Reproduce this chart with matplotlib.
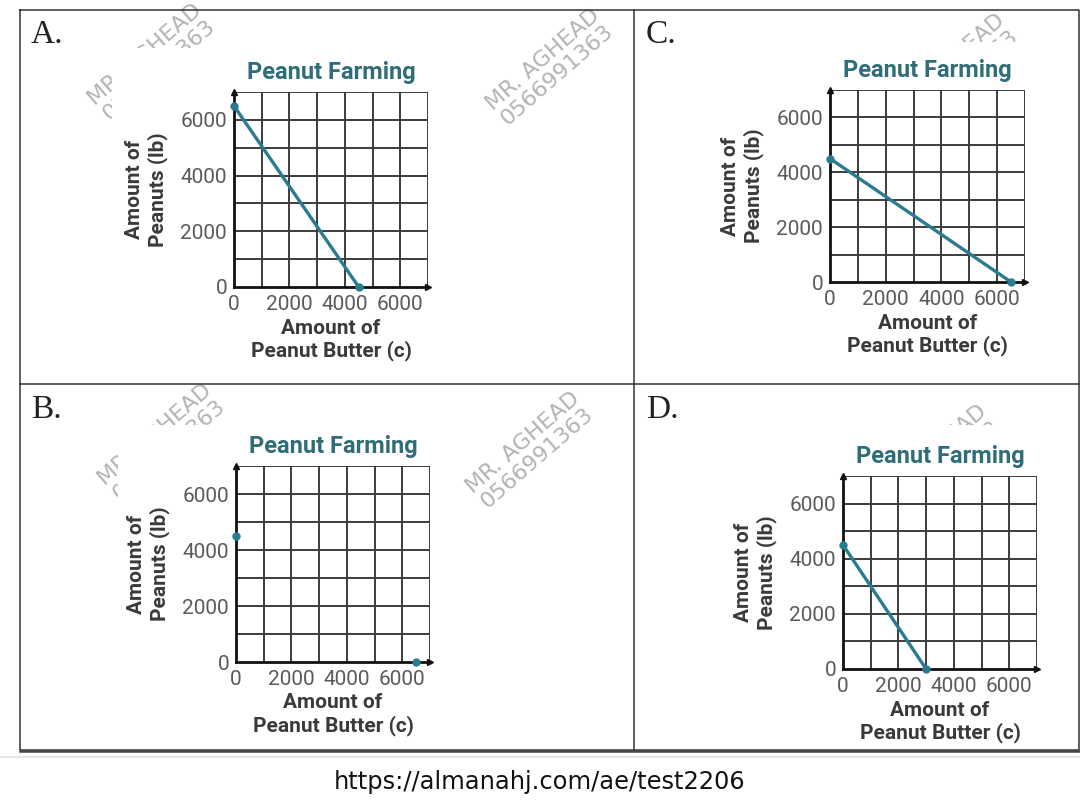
import matplotlib
matplotlib.use("Agg")
import matplotlib.pyplot as plt
from matplotlib.lines import Line2D
from matplotlib.patches import Rectangle

# ---- data
panel_names = ["A.", "C.", "B.", "D."]
a_x = [0, 4500]
a_y = [6500, 0]
b_x = [0, 6500]
b_y = [4500, 0]
c_x = [0, 6500]
c_y = [4500, 0]
d_x = [0, 3000]
d_y = [4500, 0]
tick_values = [0, 2000, 4000, 6000]
tick_labels = ["0", "2000", "4000", "6000"]
grid_values = [0, 1000, 2000, 3000, 4000, 5000, 6000, 7000]
axis_max = 7000

title_text = "Peanut Farming"
xlabel_text = "Amount of\nPeanut Butter (c)"
ylabel_text = "Amount of\nPeanuts (lb)"
watermark_text = "MR. AGHEAD\n0566991363"
url_text = "https://almanahj.com/ae/test2206"

W, H = 1080, 810
TEAL = "#2b7b90"
TITLE_TEAL = "#2f6d78"
GRID = "#3c3c3c"

fig = plt.figure(figsize=(W / 100, H / 100), dpi=100)


def fx(x):
    return x / W


def fy(y):
    return 1 - y / H


def rect(x0, y0, x1, y1):
    return [fx(x0), fy(y1), (x1 - x0) / W, (y1 - y0) / H]


# watermarks sit under the pasted chart images
for (wx, wy) in [(152, 62), (550, 67), (955, 72), (162, 442), (530, 450), (937, 463)]:
    fig.text(fx(wx), fy(wy), watermark_text, rotation=41, ha="center", va="center",
             fontsize=16, color="#b4b4b4", family="DejaVu Sans", zorder=-3,
             linespacing=1.05, rotation_mode="anchor")

for (x0, y0, x1, y1) in [(112, 48, 462, 372), (118, 425, 445, 745),
                         (700, 42, 1075, 372), (700, 425, 1075, 745)]:
    fig.patches.append(Rectangle((fx(x0), fy(y1)), (x1 - x0) / W, (y1 - y0) / H,
                                 transform=fig.transFigure, facecolor="white",
                                 edgecolor="none", zorder=-2))

# ---- table lines
tbl = dict(color="#333333", lw=1.1, transform=fig.transFigure, zorder=5)
fig.lines.append(Line2D([fx(20), fx(1079), fx(1079), fx(20), fx(20)],
                        [fy(10), fy(10), fy(750), fy(750), fy(10)], **tbl))
fig.lines.append(Line2D([fx(634), fx(634)], [fy(10), fy(750)], **tbl))
fig.lines.append(Line2D([fx(20), fx(1079)], [fy(384), fy(384)], **tbl))
fig.lines.append(Line2D([fx(20), fx(1079)], [fy(750.5), fy(750.5)], color="#444444",
                        lw=1.8, transform=fig.transFigure, zorder=5))
fig.lines.append(Line2D([0, 1], [fy(757), fy(757)], color="#e2e2e2", lw=1.2,
                        transform=fig.transFigure))

letter_pos = [(31, 35), (646, 35), (31, 410), (646, 410)]
for name, (lx, ly) in zip(panel_names, letter_pos):
    fig.text(fx(lx), fy(ly), name, ha="left", va="center", fontsize=24,
             family="Liberation Serif", color="#222222")

fig.text(fx(540), fy(782), url_text, ha="center", va="center", fontsize=17.4,
         family="DejaVu Sans", color="#111111")


def farm_axes(box, xs, ys, draw_line=True):
    ax = fig.add_axes(rect(*box))
    ax.set_xlim(0, axis_max)
    ax.set_ylim(0, axis_max)
    ax.set_facecolor("none")
    for v in grid_values[1:]:
        ax.axvline(v, color=GRID, lw=1.4, zorder=1)
        ax.axhline(v, color=GRID, lw=1.4, zorder=1)
    for s in ["top", "right"]:
        ax.spines[s].set_visible(False)
    for s in ["left", "bottom"]:
        ax.spines[s].set_color("#111111")
        ax.spines[s].set_linewidth(2.0)
    ax.plot(1.0, 0, ">", color="#111111", ms=4, transform=ax.transAxes, clip_on=False)
    ax.plot(0, 1.0, "^", color="#111111", ms=4, transform=ax.transAxes, clip_on=False)

    ax.set_xticks(tick_values)
    ax.set_xticklabels(tick_labels)
    ax.set_yticks(tick_values)
    ax.set_yticklabels(tick_labels)
    ax.tick_params(axis="x", length=0, labelsize=15, labelcolor="#5a5a5a", pad=6)
    ax.tick_params(axis="y", length=0, labelsize=15, labelcolor="#5a5a5a", pad=5)
    for lab in ax.get_xticklabels() + ax.get_yticklabels():
        lab.set_family("Roboto")

    if draw_line:
        ax.plot(xs, ys, color=TEAL, lw=2.4, zorder=3, clip_on=False)
    ax.plot(xs, ys, "o", color=TEAL, ms=5, zorder=4, clip_on=False, ls="none")

    ax.set_title(title_text, color=TITLE_TEAL, fontsize=17, fontweight="bold",
                 family="Roboto", pad=9)
    ax.set_xlabel(xlabel_text, fontsize=15, fontweight="bold", family="Roboto",
                  color="#3a3a3a", labelpad=3, linespacing=1.2)
    ax.set_ylabel(ylabel_text, fontsize=15, fontweight="bold", family="Roboto",
                  color="#3a3a3a", labelpad=9, linespacing=1.2)
    return ax


farm_axes((234, 92, 428, 287), a_x, a_y)
farm_axes((830, 90, 1025, 282), c_x, c_y)
farm_axes((236, 466, 430, 662), b_x, b_y, draw_line=False)
farm_axes((843, 476, 1037, 669), d_x, d_y)

fig.savefig("out.png", dpi=100, facecolor="white")
